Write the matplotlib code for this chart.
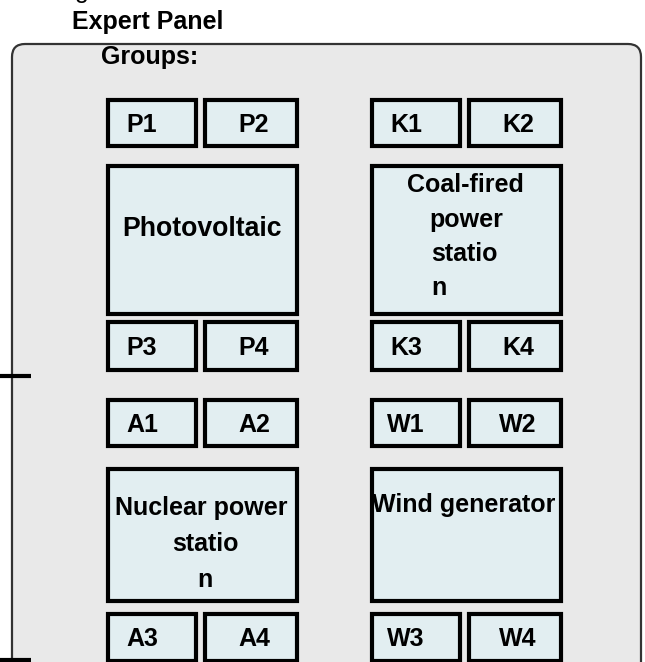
import matplotlib.pyplot as plt
from matplotlib.patches import FancyBboxPatch, Rectangle

# Labels of the diagram
title_lines = ["Expert Panel", "Groups:"]
group_names = [
    ["Photovoltaic"],
    ["Coal-fired", "power", "statio", "n"],
    ["Nuclear power", "statio", "n"],
    ["Wind generator"],
]
panel_labels = [
    ["P1", "P2", "P3", "P4"],
    ["K1", "K2", "K3", "K4"],
    ["A1", "A2", "A3", "A4"],
    ["W1", "W2", "W3", "W4"],
]

# layout (pixel coordinates): left x, top y of small row, big box top/bottom, lower row top/bottom
groups_geom = [
    dict(x=108, top=100, big=(166, 314), low=(322, 370)),
    dict(x=372, top=100, big=(166, 314), low=(322, 370)),
    dict(x=108, top=400, big=(469, 601), low=(614, 661)),
    dict(x=372, top=400, big=(469, 601), low=(614, 661)),
]
name_pos = [
    [(202, 229)],
    [(465, 185), (466, 220), (464, 254), (439, 288)],
    [(201, 508), (205, 544), (205, 580)],
    [(464, 505)],
]
name_size = [19.2, 18, 18, 18]

FONT = ["Liberation Sans", "DejaVu Sans"]
FS = 18
BOX_FILL = "#e2eef1"

fig = plt.figure(figsize=(6.45, 6.62), dpi=100)
ax = fig.add_axes([0, 0, 1, 1])
ax.set_xlim(0, 645)
ax.set_ylim(662, 0)
ax.axis("off")

# outer panel
ax.add_patch(FancyBboxPatch((12, 44), 629, 640, boxstyle="round,pad=0,rounding_size=13",
                            facecolor="#e9e9e9", edgecolor="#333333", linewidth=1.6))

# stray lines on the left edge
ax.plot([0, 31], [376, 376], color="black", lw=3, solid_capstyle="butt")
ax.plot([0, 31], [660, 660], color="black", lw=3, solid_capstyle="butt")

ax.text(148, 22, title_lines[0], ha="center", va="center", fontsize=FS,
        fontweight="bold", family=FONT)
ax.text(150, 57, title_lines[1], ha="center", va="center", fontsize=FS,
        fontweight="bold", family=FONT)
ax.text(82, -9, "g", ha="center", va="center", fontsize=FS, family=FONT)


def box(x0, y0, x1, y1):
    ax.add_patch(Rectangle((x0, y0), x1 - x0, y1 - y0, facecolor=BOX_FILL,
                           edgecolor="black", linewidth=3))


for g, geo in enumerate(groups_geom):
    x = geo["x"]
    w = 88
    small_x = [(x, x + w), (x + w + 9, x + 2 * w + 13)]
    rows = [(geo["top"], geo["top"] + 46), geo["low"]]
    k = 0
    for (ya, yb) in rows:
        for (xa, xb) in small_x:
            box(xa, ya, xb, yb)
            off = -10 if k % 2 == 0 else 3
            ax.text((xa + xb) / 2 + off, (ya + yb) / 2 + 2, panel_labels[g][k],
                    ha="center", va="center", fontsize=FS, fontweight="bold", family=FONT)
            k += 1
    box(x, geo["big"][0], x + 2 * w + 13, geo["big"][1])
    for line, (tx, ty) in zip(group_names[g], name_pos[g]):
        ax.text(tx, ty, line, ha="center", va="center", fontsize=name_size[g],
                fontweight="bold", family=FONT)

fig.savefig("out.png", dpi=100)
